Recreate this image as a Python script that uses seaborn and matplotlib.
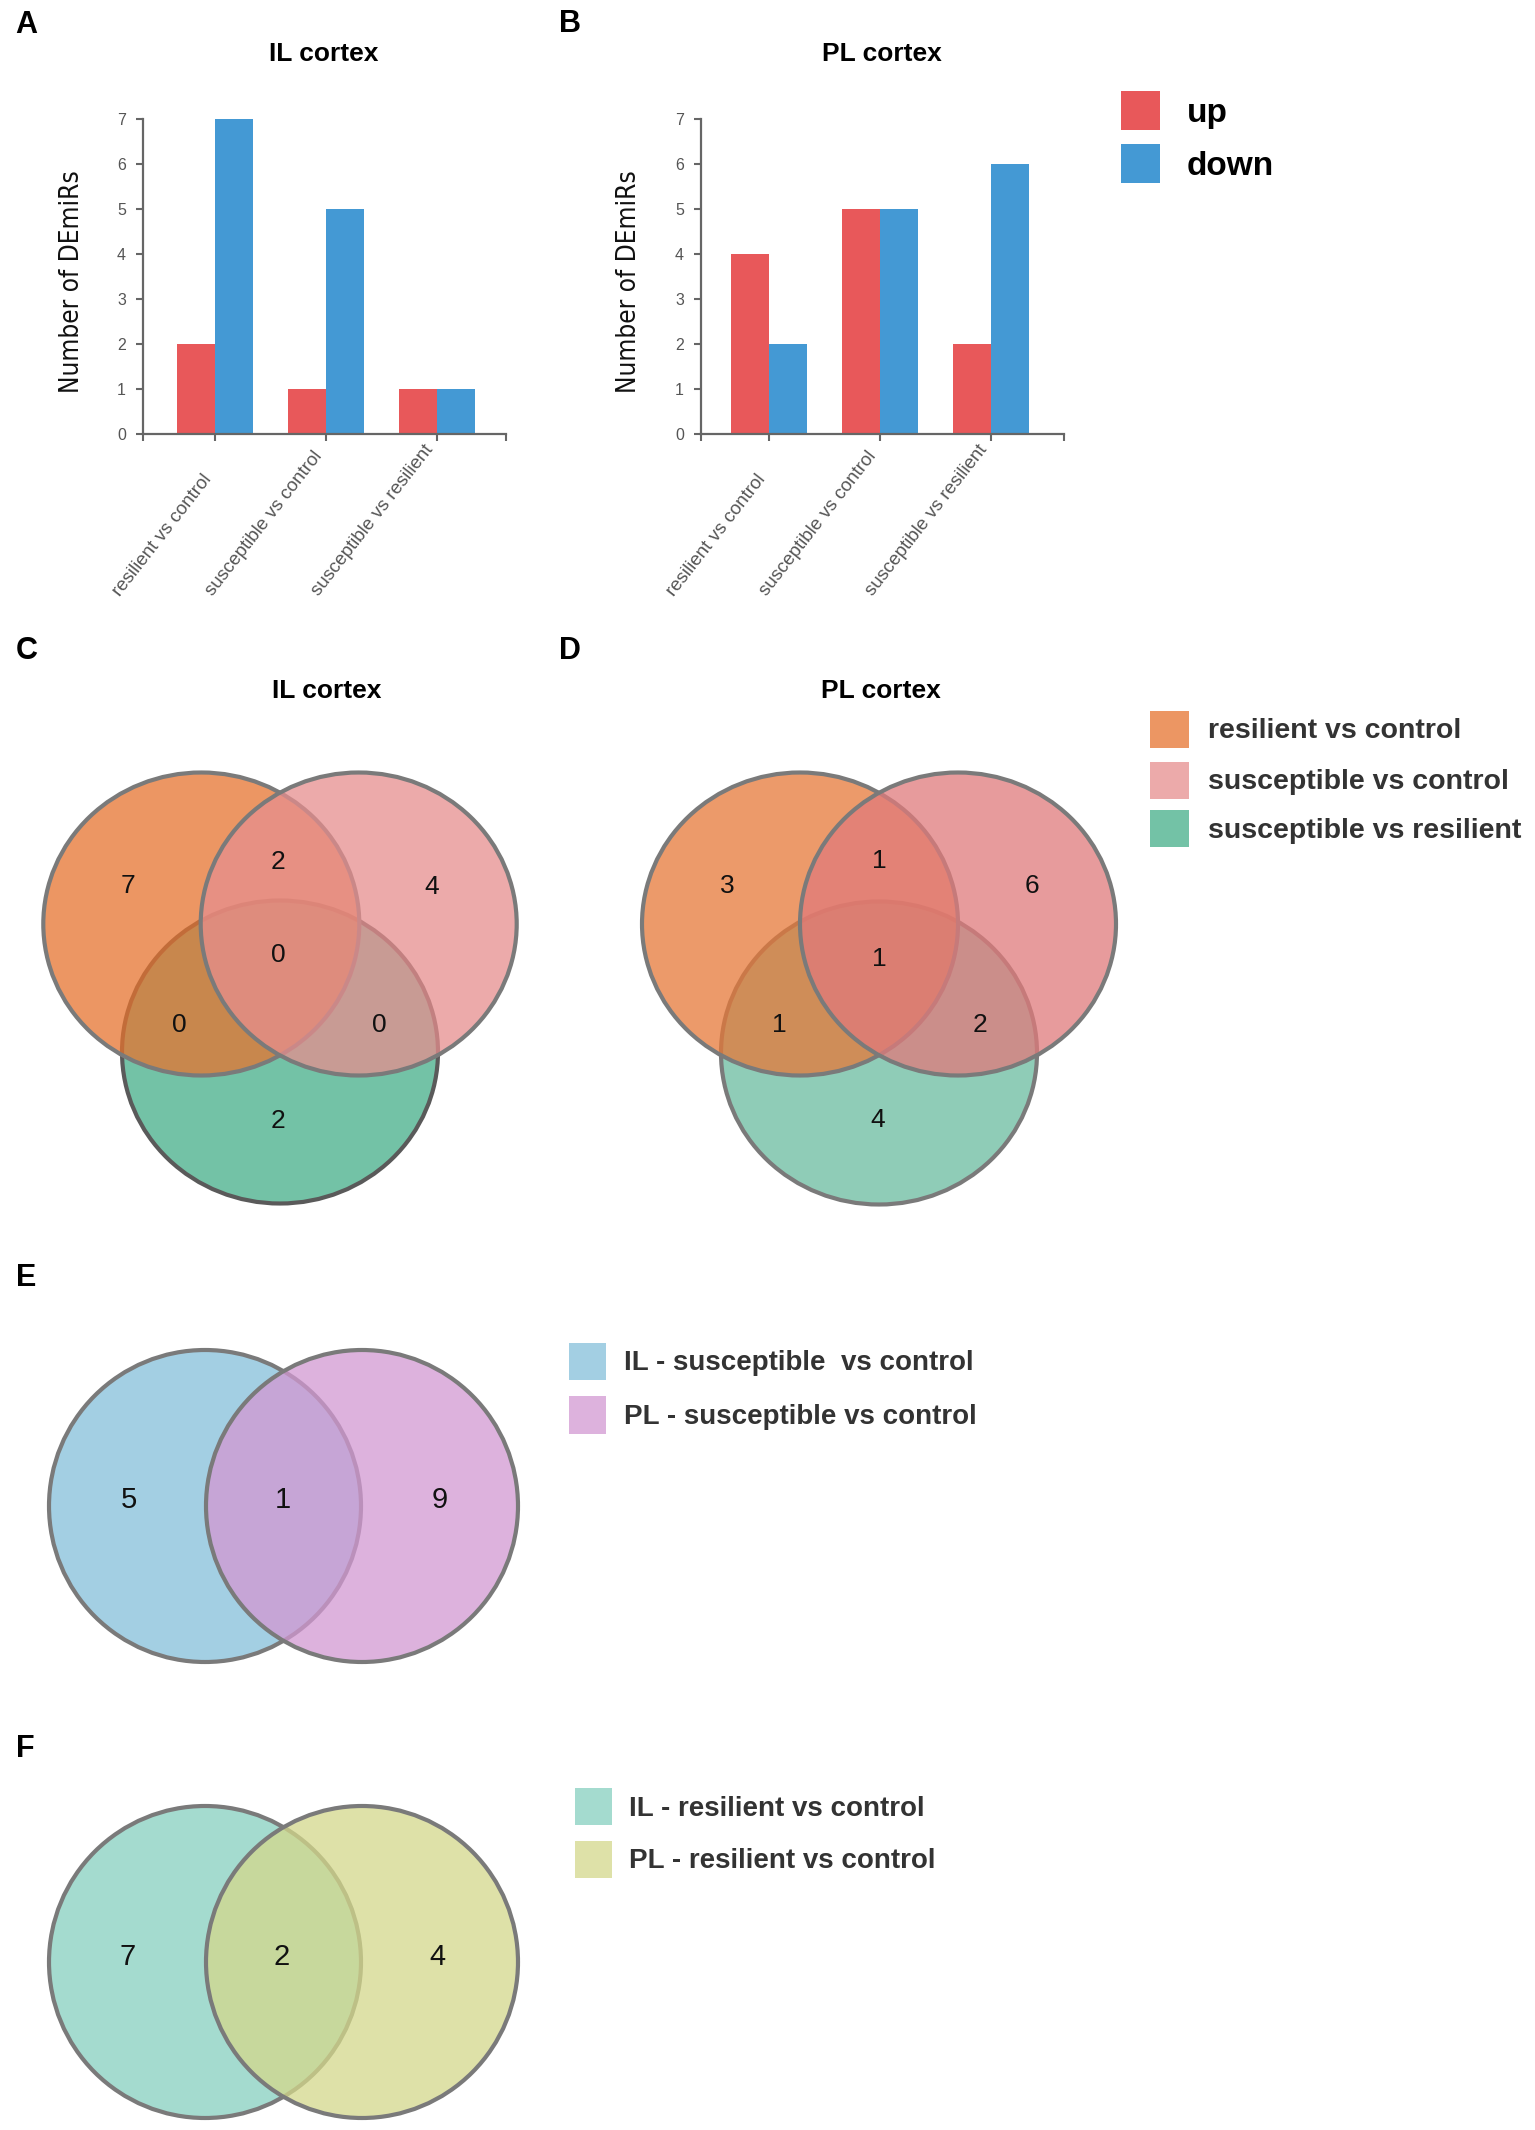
import matplotlib
matplotlib.use("Agg")
import matplotlib.pyplot as plt
import seaborn as sns
import pandas as pd
from matplotlib.patches import Ellipse, Rectangle
from matplotlib import font_manager
from matplotlib.font_manager import FontProperties
from matplotlib.textpath import TextPath

# ---------------- data ----------------
comparisons = ["resilient vs control", "susceptible vs control", "susceptible vs resilient"]
directions = ["up", "down"]
il_up = [2, 1, 1]
il_down = [7, 5, 1]
pl_up = [4, 5, 2]
pl_down = [2, 5, 6]
bar_colors = {"up": "#E8585A", "down": "#4499D4"}
y_ticks = [0, 1, 2, 3, 4, 5, 6, 7]

# three-set Venn: region order = A only, B only, C only, AB, AC, BC, ABC
venn3_sets = ["resilient vs control", "susceptible vs control", "susceptible vs resilient"]
venn_il_counts = [7, 4, 2, 2, 0, 0, 0]
venn_pl_counts = [3, 6, 4, 1, 1, 2, 1]
# two-set Venn: region order = A only, AB, B only
venn_e_sets = ["IL - susceptible  vs control", "PL - susceptible vs control"]
venn_e_counts = [5, 1, 9]
venn_f_sets = ["IL - resilient vs control", "PL - resilient vs control"]
venn_f_counts = [7, 2, 4]

# ---------------- style ----------------
sns.set_style("white")
plt.rcParams["font.family"] = ["Liberation Sans", "DejaVu Sans"]

YLAB = "Number of DEmiRs"


def find_condensed():
    best, best_rank = None, 99
    for f in font_manager.fontManager.ttflist:
        nm = (f.name + " " + str(f.fname)).replace("_", " ")
        low = nm.lower()
        if "mono" in low or "serif" in low.replace("sans serif", ""):
            continue
        if "sans" not in low and "roboto" not in low:
            continue
        if not ("narrow" in low or "condensed" in low
                or str(f.stretch) in ("condensed", "semi-condensed")):
            continue
        if str(f.weight) not in ("400", "normal", "regular", "book") or f.style != "normal":
            continue
        if "bold" in low or "light" in low or "italic" in low or "oblique" in low:
            continue
        rank = 0 if "liberation" in low else (1 if "arial" in low else
                                              (2 if "dejavu" in low else 3))
        if rank < best_rank:
            best, best_rank = f.fname, rank
    return best


cond = find_condensed()
ylab_fp = FontProperties(fname=cond) if cond else FontProperties(family="Liberation Sans")
w100 = TextPath((0, 0), YLAB, size=100, prop=ylab_fp).get_extents().width
ylab_size = 220.0 / (w100 / 100.0 * 100.0 / 72.0)
ylab_fp.set_size(ylab_size)

W, H = 1535, 2130
fig = plt.figure(figsize=(W / 100, H / 100), dpi=100)
fig.patch.set_facecolor("white")

AX_GRAY = "#666666"
LBL_GRAY = "#555555"


def px_axes(x0, y0, x1, y1, **kw):
    return fig.add_axes([x0 / W, 1 - y1 / H, (x1 - x0) / W, (y1 - y0) / H], **kw)


# overlay for annotations / venn diagrams (pixel coordinates)
ov = px_axes(0, 0, W, H)
ov.set_xlim(0, W)
ov.set_ylim(H, 0)
ov.axis("off")


def bar_panel(box, up, down, xlim):
    ax = px_axes(*box)
    df = pd.DataFrame({
        "comparison": comparisons * 2,
        "direction": ["up"] * len(up) + ["down"] * len(down),
        "count": up + down,
    })
    sns.barplot(data=df, x="comparison", y="count", hue="direction",
                order=comparisons, hue_order=directions, palette=bar_colors,
                width=0.685, saturation=1, ax=ax, legend=False,
                linewidth=0, edgecolor="none")
    ax.set_xlim(*xlim)
    ax.set_ylim(0, 7)
    ax.set_yticks(y_ticks)
    sns.despine(ax=ax)
    for s in ("left", "bottom"):
        ax.spines[s].set_color(AX_GRAY)
        ax.spines[s].set_linewidth(1.6)
    ax.set_xlabel("")
    ax.set_ylabel(YLAB, fontproperties=ylab_fp, color="#111111")
    ax.yaxis.label.set_verticalalignment("center")
    ax.yaxis.set_label_coords(-0.196, 0.483)
    ax.tick_params(axis="y", direction="out", length=5, width=1.5, color=AX_GRAY,
                   labelsize=11.5, labelcolor=LBL_GRAY, pad=7, left=True)
    ax.set_xticks(range(len(comparisons)))
    ax.set_xticklabels(comparisons)
    ax.set_xticks(list(xlim), minor=True)
    ax.tick_params(axis="x", which="both", direction="out", length=5, width=1.5,
                   color=AX_GRAY, labelsize=13.5, labelcolor=LBL_GRAY, pad=114,
                   bottom=True)
    for lab in ax.get_xticklabels():
        lab.set_rotation(52)
        lab.set_horizontalalignment("right")
        lab.set_verticalalignment("bottom")
    ax.grid(False)
    return ax


bar_panel((142.7, 119.3, 505.8, 434.0), il_up, il_down, (-0.65, 2.62))
bar_panel((700.5, 119.3, 1064.3, 434.0), pl_up, pl_down, (-0.62, 2.66))

# panel letters and titles
for letter, (x, y) in {"A": (15, 25), "B": (559, 24), "C": (16, 651),
                       "D": (559, 651), "E": (16, 1278), "F": (16, 1749)}.items():
    ov.text(x, y, letter, fontsize=22, fontweight="bold", ha="left", va="center",
            color="#000000")
for title, (x, y) in [("IL cortex", (324, 54)), ("PL cortex", (882, 54)),
                      ("IL cortex", (327, 691)), ("PL cortex", (881, 691))]:
    ov.text(x, y, title, fontsize=19, fontweight="bold", ha="center", va="center",
            color="#000000")

# up / down legend
for d, (y0, y1) in zip(directions, [(91, 130), (144, 183)]):
    ov.add_patch(Rectangle((1121, y0), 39, y1 - y0, facecolor=bar_colors[d],
                           edgecolor="none"))
    ov.text(1187, (y0 + y1) / 2 + 3, d, fontsize=24, fontweight="bold", ha="left",
            va="center", color="#000000")


# ---------------- Venn diagrams ----------------
def rgba(hexc, a):
    return matplotlib.colors.to_rgba(hexc, a)


def venn(centers, rx, ry, fills, edges, counts, label_pos, fs):
    for (cx, cy), fc, ec in zip(centers, fills, edges):
        ov.add_patch(Ellipse((cx, cy), 2 * rx, 2 * ry, facecolor=fc, edgecolor=ec,
                             linewidth=3.0))
    for n, (x, y) in zip(counts, label_pos):
        ov.text(x, y, str(n), fontsize=fs, ha="center", va="center",
                color="#111111", zorder=10)


def legend(x0, x1, tx, boxes, labels, fills, fs, color="#333333"):
    for (y0, y1), lab, fc in zip(boxes, labels, fills):
        ov.add_patch(Rectangle((x0, y0), x1 - x0, y1 - y0, facecolor=fc,
                               edgecolor="none"))
        ov.text(tx, (y0 + y1) / 2 + 2, lab, fontsize=fs, fontweight="bold",
                ha="left", va="center", color=color)


A = 0.75
EDGE = "#7a7a7a"
# C: IL three-set (draw order: third set first, then first, then second)
c_fill = [rgba("#E6732F", A), rgba("#E68E8E", A), rgba("#44AE88", A)]
order = [2, 0, 1]
c_centers = [(201.3, 924), (358.7, 924), (280, 1052)]
venn([c_centers[i] for i in order], 158, 151.5, [c_fill[i] for i in order],
     ["#5a5a5a", EDGE, EDGE], [], [], 19)
venn([], 158, 151.5, [], [], venn_il_counts,
     [(127.5, 886), (432, 887), (278.3, 1120.7), (278, 861.7),
      (179.3, 1025), (379.3, 1025), (278, 955)], 19)

d_fill = [rgba("#E67838", A), rgba("#E07A7B", A), rgba("#6ABC9F", A)]
d_centers = [(800, 924), (958, 924), (879, 1053)]
venn([d_centers[i] for i in order], 158, 151.5, [d_fill[i] for i in order],
     [EDGE, EDGE, EDGE], [], [], 19)
venn([], 158, 151.5, [], [], venn_pl_counts,
     [(727, 886), (1032, 886), (878, 1120), (879, 861.5),
      (779, 1025), (980, 1025), (879, 959.5)], 19)

legend(1150, 1189, 1208, [(710.5, 748), (761.5, 799), (810, 847)], venn3_sets,
       c_fill, 20.5)

# E
e_fill = [rgba("#84C0DA", A), rgba("#D298D2", A)]
venn([(205, 1506), (362, 1506)], 156, 156, e_fill, [EDGE, EDGE], venn_e_counts,
     [(129, 1500), (282.6, 1500), (439.7, 1500)], 21)
legend(569, 606, 624, [(1343, 1380), (1396, 1434)], venn_e_sets, e_fill, 20)

# F
f_fill = [rgba("#86D0C0", A), rgba("#D4D88B", A)]
venn([(205, 1962), (362, 1962)], 156, 156, f_fill, [EDGE, EDGE], venn_f_counts,
     [(128, 1957), (281.7, 1957), (437, 1957)], 21)
legend(575, 612, 629, [(1788, 1825), (1841, 1878)], venn_f_sets, f_fill, 20)

fig.savefig("out.png", dpi=100, facecolor="white")
